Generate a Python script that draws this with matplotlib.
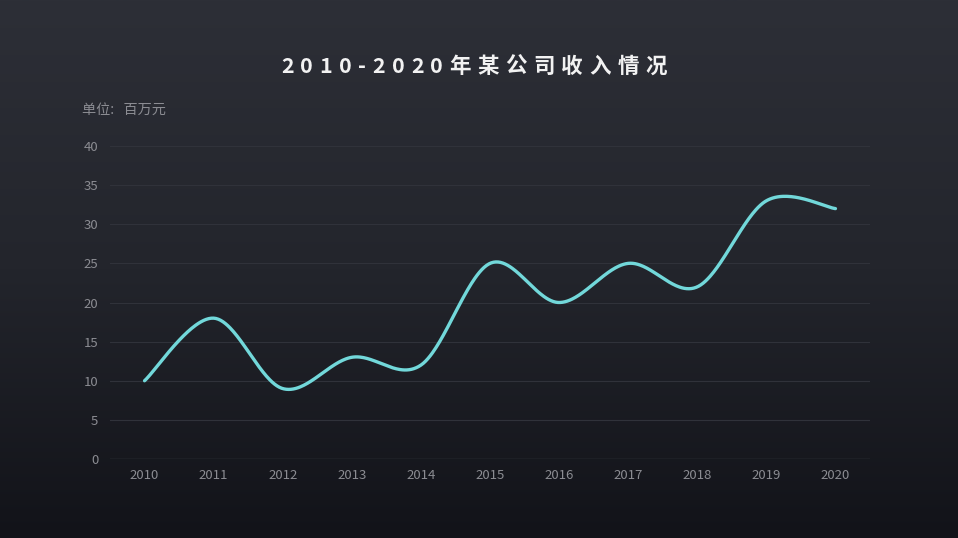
import numpy as np
import matplotlib
matplotlib.use("Agg")
import matplotlib.pyplot as plt
from matplotlib.colors import LinearSegmentedColormap

plt.rcParams['font.family'] = ['Noto Sans CJK SC', 'DejaVu Sans']

years = ['2010', '2011', '2012', '2013', '2014', '2015', '2016', '2017', '2018', '2019', '2020']
revenue = [10, 18, 9, 13, 12, 25, 20, 25, 22, 33, 32]
title = '2010-2020年某公司收入情况'
unit_label = '单位:   百万元'

W, H = 958, 538
fig = plt.figure(figsize=(W / 100, H / 100), dpi=100)

# background gradient
bg = fig.add_axes([0, 0, 1, 1], zorder=-10)
bg.axis('off')
cmap = LinearSegmentedColormap.from_list('bg', ['#2d2f37', '#23252c', '#121319'])
grad = np.linspace(0, 1, 256).reshape(-1, 1)
bg.imshow(grad, aspect='auto', cmap=cmap, extent=[0, 1, 0, 1], origin='upper')

ax_l, ax_r, ax_b, ax_t = 110, 870, 459, 146
ax = fig.add_axes([ax_l / W, 1 - ax_b / H, (ax_r - ax_l) / W, (ax_b - ax_t) / H])
ax.set_facecolor('none')
for s in ax.spines.values():
    s.set_visible(False)

x = np.arange(len(years))
ax.set_xlim(-0.5, len(years) - 0.5)
ax.set_ylim(0, 40)
ax.set_yticks(np.arange(0, 41, 5))
ax.set_xticks(x)
ax.set_xticklabels(years)
ax.tick_params(axis='both', length=0, colors='#8b8c92', labelsize=9.5)
ax.tick_params(axis='y', pad=8.5)
ax.tick_params(axis='x', pad=7.5)
for yv in range(5, 41, 5):
    ax.axhline(yv, color='#30323a', lw=0.8, zorder=0)
ax.axhline(0, color='#3b3d45', lw=1.0, zorder=0)

# Catmull-Rom style smoothing (cubic Bezier segments)
P = np.column_stack([x.astype(float), np.array(revenue, float)])
n = len(P)
tang = []
for i in range(n):
    prev = P[i - 1] if i > 0 else P[i]
    nxt = P[i + 1] if i < n - 1 else P[i]
    tang.append((nxt - prev) / 6.0)
pts = []
t = np.linspace(0, 1, 60)[:, None]
for i in range(n - 1):
    p0 = P[i]; p3 = P[i + 1]
    c1 = p0 + tang[i]
    c2 = p3 - tang[i + 1]
    seg = (1 - t) ** 3 * p0 + 3 * (1 - t) ** 2 * t * c1 + 3 * (1 - t) * t ** 2 * c2 + t ** 3 * p3
    pts.append(seg if i == 0 else seg[1:])
pts = np.vstack(pts)
ax.plot(pts[:, 0], pts[:, 1], color='#72d8da', lw=2.4, solid_capstyle='round', zorder=3)

# unit label
fig.text(82 / W, 1 - 110 / H, unit_label, color='#8b8c92', fontsize=10.2, va='center', ha='left')

# title with letter spacing
fig.canvas.draw()
renderer = fig.canvas.get_renderer()
spacing = 6.5
widths = []
objs = []
for ch in title:
    tt = fig.text(0, 0, ch, fontsize=15.5, fontweight='bold', color='#f2f2f2', va='center', ha='left')
    bb = tt.get_window_extent(renderer)
    widths.append(bb.width)
    objs.append(tt)
total = sum(widths) + spacing * (len(title) - 1)
cx = 474
xpos = cx - total / 2
for tt, w in zip(objs, widths):
    tt.set_position((xpos / W, 1 - 66 / H))
    xpos += w + spacing

fig.savefig('out.png', dpi=100)
